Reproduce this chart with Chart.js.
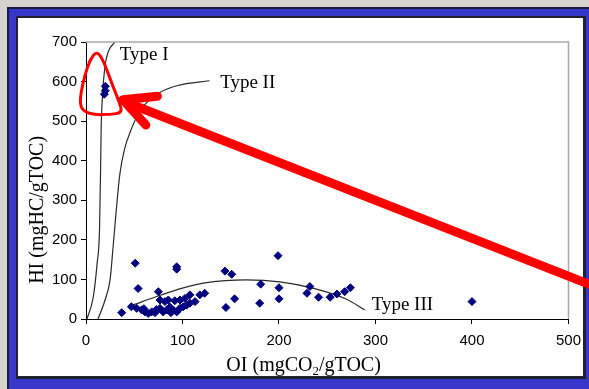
<!DOCTYPE html>
<html>
<head>
<meta charset="utf-8">
<script src="https://cdn.jsdelivr.net/npm/chart.js@4"></script>
<style>
  body { margin: 0; background: #d6d3ce; width: 589px; height: 389px; overflow: hidden; position: relative; }
  #frame { position: absolute; left: 7px; top: 7px; width: 582px; height: 382px; background: #3636c9; border-left: 2px solid #1a1a40; border-top: 2px solid #1a1a40; box-sizing: border-box; }
  #panel { position: absolute; left: 16px; top: 16px; width: 570px; height: 363px; background: #fff; border: 2px solid #202030; border-right-width: 3px; border-bottom-width: 3px; box-sizing: border-box; }
  #wrap { position: absolute; left: 0; top: 0; width: 589px; height: 389px; }
</style>
</head>
<body>
<div id="frame"></div>
<div id="panel"></div>
<div id="wrap"><canvas id="chart" width="589" height="389"></canvas></div>
<script>
// sample points (OI, HI)
const sampleOI = [20, 19, 20, 37, 47, 51, 54, 52.5, 57.7, 61, 64.5, 68, 71.5, 75, 76.7, 76.7, 80, 81.8,
  83.6, 85.3, 87, 90.4, 92, 94, 94, 94, 97.4, 97.4, 100.8, 102.5, 104.3, 107.7, 107.7, 113, 118, 123,
  144, 151, 145, 154, 181, 180, 199, 200, 200, 232, 229, 241, 253, 260, 268, 274, 400, 60, 73, 88];
const sampleHI = [588, 568, 577, 16, 31, 141, 77, 27, 23, 18, 14, 18, 16, 69, 27, 48, 18, 44,
  23, 48, 30, 23, 46, 132, 126, 18, 27, 48, 31, 52, 35, 40, 61, 44, 61, 65,
  121, 113, 29, 51, 88, 40, 160, 79, 51, 82, 65, 55, 55, 63, 69, 79, 44, 26, 24, 16];

// kerogen type curves
const typeIOI = [1, 7.5, 11.5, 14, 15.2, 15.7, 17, 19.5, 23, 30];
const typeIHI = [0, 55, 140, 225, 390, 480, 560, 635, 675, 700];
const typeIIOI = [12.5, 20, 25, 28, 31, 35, 40, 47, 57, 75, 95, 128];
const typeIIHI = [0, 50, 100, 180, 265, 365, 430, 480, 530, 570, 590, 602];
const typeIIIOI = [46, 77, 100, 125, 166, 201, 235, 270, 289];
const typeIIIHI = [33, 60, 78, 92, 99, 94, 78, 50, 23];

const typeLabels = ['Type I', 'Type II', 'Type III'];
const typeLabelOI = [35, 139, 296];
const typeLabelHI = [655, 584, 23];

// red annotation (loop round the Type I samples, arrow pointing at it)
const loopOI = [11.4, 4.1, -1.0, -5.2, -6.2, -2.1, 9.3, 24.9, 37.3, 35.2, 26.9, 18.6];
const loopHI = [678, 655, 617, 574, 541, 524, 516, 517, 521, 544, 594, 650];
const arrowOI = [43.5, 521];
const arrowHI = [546, 88];
const headOI = [74, 38.3, 62];
const headHI = [563, 554, 490];

const xTicks = [0, 100, 200, 300, 400, 500];
const yTicks = [0, 100, 200, 300, 400, 500, 600, 700];

const toXY = (xs, ys) => xs.map((x, i) => ({ x: x, y: ys[i] }));

const curve = (xs, ys) => ({
  data: toXY(xs, ys),
  showLine: true,
  borderColor: '#2a2a2a',
  borderWidth: 1.2,
  pointRadius: 0,
  cubicInterpolationMode: 'monotone',
  fill: false
});

const overlay = {
  id: 'overlay',
  afterDraw(chart) {
    const ctx = chart.ctx;
    const xs = chart.scales.x, ys = chart.scales.y;
    const a = chart.chartArea;
    const px = v => xs.getPixelForValue(v);
    const py = v => ys.getPixelForValue(v);
    ctx.save();

    // grey frame on top and right of plot
    ctx.strokeStyle = '#a8a8a8';
    ctx.lineWidth = 1.5;
    ctx.beginPath();
    ctx.moveTo(a.left, a.top);
    ctx.lineTo(a.right, a.top);
    ctx.lineTo(a.right, a.bottom);
    ctx.stroke();

    // curve labels
    ctx.fillStyle = '#000';
    ctx.font = '19px "Liberation Serif"';
    ctx.textAlign = 'left';
    ctx.textBaseline = 'alphabetic';
    typeLabels.forEach((t, i) => ctx.fillText(t, px(typeLabelOI[i]), py(typeLabelHI[i])));

    // x title with subscript
    const parts = ['OI (mgCO', '2', '/gTOC)'];
    ctx.font = '20px "Liberation Serif"';
    const w0 = ctx.measureText(parts[0]).width, w2 = ctx.measureText(parts[2]).width;
    ctx.font = '13px "Liberation Serif"';
    const w1 = ctx.measureText(parts[1]).width;
    let sx = a.left + a.width * 0.451 - (w0 + w1 + w2) / 2;
    const by = a.bottom + 52;
    ctx.font = '20px "Liberation Serif"';
    ctx.fillText(parts[0], sx, by);
    ctx.font = '13px "Liberation Serif"';
    ctx.fillText(parts[1], sx + w0, by + 4);
    ctx.font = '20px "Liberation Serif"';
    ctx.fillText(parts[2], sx + w0 + w1, by);

    // y title
    ctx.save();
    ctx.translate(a.left - 43, a.top + a.height * 0.606);
    ctx.rotate(-Math.PI / 2);
    ctx.textAlign = 'center';
    ctx.font = '20px "Liberation Serif"';
    ctx.fillText('HI (mgHC/gTOC)', 0, 0);
    ctx.restore();

    // red loop
    ctx.strokeStyle = '#ff0000';
    ctx.lineJoin = 'round';
    ctx.lineCap = 'round';
    ctx.lineWidth = 3;
    const lp = loopOI.map((x, i) => [px(x), py(loopHI[i])]);
    const n = lp.length;
    const mid = (p, q) => [(p[0] + q[0]) / 2, (p[1] + q[1]) / 2];
    ctx.beginPath();
    let m = mid(lp[n - 1], lp[0]);
    ctx.moveTo(m[0], m[1]);
    for (let i = 0; i < n; i++) {
      const q = mid(lp[i], lp[(i + 1) % n]);
      ctx.quadraticCurveTo(lp[i][0], lp[i][1], q[0], q[1]);
    }
    ctx.closePath();
    ctx.stroke();

    // red arrow
    ctx.lineWidth = 9;
    ctx.beginPath();
    arrowOI.forEach((x, i) => i ? ctx.lineTo(px(x), py(arrowHI[i])) : ctx.moveTo(px(x), py(arrowHI[i])));
    ctx.stroke();
    ctx.beginPath();
    headOI.forEach((x, i) => i ? ctx.lineTo(px(x), py(headHI[i])) : ctx.moveTo(px(x), py(headHI[i])));
    ctx.stroke();

    ctx.restore();
  }
};

new Chart(document.getElementById('chart'), {
  type: 'scatter',
  data: {
    datasets: [
      {
        data: toXY(sampleOI, sampleHI),
        pointStyle: 'rectRot',
        pointRadius: 4,
        pointBorderWidth: 1,
        backgroundColor: '#000080',
        borderColor: '#000080'
      },
      curve(typeIOI, typeIHI),
      curve(typeIIOI, typeIIHI),
      curve(typeIIIOI, typeIIIHI)
    ]
  },
  options: {
    responsive: false,
    animation: false,
    devicePixelRatio: 1,
    layout: { padding: { left: 0, top: 42, right: 20, bottom: 0 } },
    plugins: { legend: { display: false }, tooltip: { enabled: false } },
    scales: {
      x: {
        type: 'linear',
        min: 0,
        max: 500,
        afterFit: s => { s.height = 70; },
        afterBuildTicks: s => { s.ticks = xTicks.map(v => ({ value: v })); },
        border: { display: true, color: '#000', width: 1 },
        grid: { drawOnChartArea: false, drawTicks: true, tickLength: 5, color: '#000' },
        ticks: { color: '#000', padding: 8, maxRotation: 0, font: { family: 'Liberation Sans', size: 15 } }
      },
      y: {
        type: 'linear',
        min: 0,
        max: 700,
        afterFit: s => { s.width = 86; },
        afterBuildTicks: s => { s.ticks = yTicks.map(v => ({ value: v })); },
        border: { display: true, color: '#000', width: 1 },
        grid: { drawOnChartArea: false, drawTicks: true, tickLength: 5, color: '#000' },
        ticks: { color: '#000', padding: 4, font: { family: 'Liberation Sans', size: 15 } }
      }
    }
  },
  plugins: [overlay]
});
</script>
</body>
</html>
